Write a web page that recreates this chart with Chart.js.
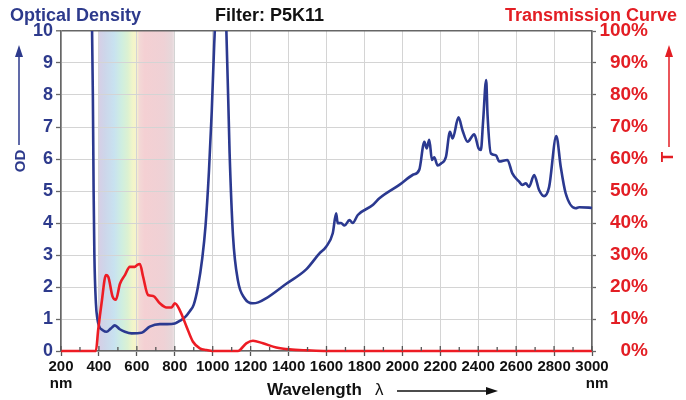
<!DOCTYPE html>
<html>
<head>
<meta charset="utf-8">
<title>Filter: P5K11</title>
<script src="https://cdn.jsdelivr.net/npm/chart.js@4.4.1/dist/chart.umd.min.js"></script>
<style>
  html, body { margin:0; padding:0; background:#fff; }
  #wrap { position:relative; width:686px; height:400px; font-family:'Liberation Sans', Arial, sans-serif; font-weight:bold; }
  #wrap canvas { position:absolute; left:0; top:0; }
  .lbl { position:absolute; white-space:nowrap; line-height:1; }
  #arrows { position:absolute; left:0; top:0; }
</style>
</head>
<body>
<div id="wrap">
  <canvas id="chart" width="686" height="400"></canvas>
  <svg id="arrows" width="686" height="400">
    <line x1="19" y1="145" x2="19" y2="54" stroke="#2d3a8c" stroke-width="1.5"/>
    <polygon points="19,45 15,57 23,57" fill="#2d3a8c"/>
    <line x1="669" y1="147" x2="669" y2="54" stroke="#e31e24" stroke-width="1.5"/>
    <polygon points="669,45 665,57 673,57" fill="#e31e24"/>
    <line x1="397" y1="391" x2="488" y2="391" stroke="#111" stroke-width="1.3"/>
    <polygon points="498,391 486,387 486,395" fill="#111"/>
  </svg>
  <div class="lbl" style="left:10px;top:6px;font-size:18px;color:#2d3a8c">Optical Density</div>
  <div class="lbl" style="left:215px;top:6px;font-size:18px;color:#111">Filter: P5K11</div>
  <div class="lbl" style="right:9px;top:6px;font-size:18px;color:#e31e24">Transmission Curve</div>
  <div class="lbl" style="left:19px;top:161px;font-size:15px;color:#2d3a8c;transform:translate(-50%,-50%) rotate(-90deg)">OD</div>
  <div class="lbl" style="left:667px;top:157px;font-size:17px;color:#e31e24;transform:translate(-50%,-50%) rotate(-90deg)">T</div>
  <div class="lbl" style="left:61px;top:375px;font-size:15px;color:#111;transform:translateX(-50%)">nm</div>
  <div class="lbl" style="left:597px;top:375px;font-size:15px;color:#111;transform:translateX(-50%)">nm</div>
  <div class="lbl" style="left:267px;top:381px;font-size:17px;color:#111">Wavelength</div>
  <div class="lbl" style="left:375px;top:381px;font-size:17px;font-weight:normal;color:#111">λ</div>
</div>
<script>
// optical density (blue)
const odNm  = [362, 368, 372, 376, 384, 392, 402, 420, 440, 462, 484, 510, 537, 572, 625, 668, 721, 760, 800, 826, 853, 880, 900, 922, 945, 962, 980, 995, 1008, 1020, 1050, 1072, 1089, 1107, 1133, 1168, 1212, 1240, 1283, 1388, 1493, 1563, 1598, 1633, 1651, 1659, 1677, 1695, 1721, 1738, 1765, 1844, 1879, 1984, 2054, 2089, 2116, 2128, 2142, 2156, 2168, 2186, 2204, 2230, 2251, 2265, 2296, 2317, 2344, 2379, 2402, 2414, 2426, 2442, 2449, 2467, 2493, 2511, 2554, 2580, 2616, 2633, 2651, 2668, 2695, 2721, 2747, 2774, 2812, 2835, 2861, 2914, 2932, 2984, 3000];
const odVal = [10.8, 8, 5, 3.0, 1.5, 1.0, 0.76, 0.65, 0.6, 0.7, 0.8, 0.68, 0.6, 0.55, 0.57, 0.76, 0.84, 0.84, 0.86, 0.94, 1.05, 1.25, 1.45, 2.0, 2.9, 3.9, 5.6, 7.5, 9.6, 11, 11.5, 10, 6.2, 3.6, 2.2, 1.65, 1.49, 1.52, 1.65, 2.1, 2.55, 3.05, 3.26, 3.68, 4.3, 3.99, 4.0, 3.92, 4.09, 4.0, 4.25, 4.56, 4.77, 5.19, 5.5, 5.66, 6.54, 6.33, 6.6, 5.97, 6.05, 5.8, 5.86, 6.07, 6.85, 6.64, 7.3, 6.9, 6.54, 6.77, 6.33, 6.28, 7.2, 8.47, 7.4, 6.17, 6.12, 5.92, 5.97, 5.55, 5.29, 5.19, 5.24, 5.13, 5.5, 5.03, 4.84, 5.13, 6.72, 5.76, 4.93, 4.46, 4.49, 4.48, 4.47];

// transmission in % (red)
const tNm  = [200, 384, 396, 414, 437, 449, 472, 489, 511, 537, 563, 589, 602, 616, 633, 659, 686, 721, 756, 783, 800, 826, 862, 896, 932, 967, 1000, 1133, 1177, 1212, 1265, 1335, 1405, 1500, 1600, 3000];
const tVal = [0, 0, 6.6, 15, 23.7, 23.2, 17, 16, 21, 23.7, 26.3, 26.3, 26.9, 27.2, 23.2, 17.5, 17.2, 14.9, 13.6, 13.6, 14.9, 12.8, 7.6, 2.9, 0.8, 0.3, 0, 0, 2.4, 3.2, 2.4, 1.1, 0.5, 0.2, 0, 0];

// visible band
const bandNm = [400, 800];
const bandStops = [
  [0, '#d6cfe6'], [0.08, '#cdd6ea'], [0.2, '#c8e2f0'], [0.3, '#cfeee0'], [0.38, '#dcf1d2'],
  [0.45, '#f3f5c9'], [0.5, '#f7f3cc'], [0.53, '#f3d9d6'], [0.6, '#f4d0d3'], [0.85, '#efd1d5'],
  [0.96, '#e6d7da'], [1, '#eee4e6']
];

const BLUE = '#2b3990', RED = '#ed1c24', TXTBLUE = '#2d3a8c', TXTRED = '#e31e24';
const GRID = '#d4d4d4', AXIS = '#666';

const bandPlugin = {
  id: 'band',
  beforeDraw(chart){
    const {ctx, chartArea:a, scales:{x}} = chart;
    const x0 = x.getPixelForValue(bandNm[0]), x1 = x.getPixelForValue(bandNm[1]);
    const g = ctx.createLinearGradient(x0, 0, x1, 0);
    bandStops.forEach(s => g.addColorStop(s[0], s[1]));
    ctx.save();
    ctx.fillStyle = g;
    ctx.fillRect(x0, a.top, x1 - x0, a.bottom - a.top);
    ctx.restore();
  }
};

// small ticks pointing into the plot on the wavelength axis
const innerTicks = {
  id: 'innerTicks',
  afterDraw(chart){
    const {ctx, chartArea:a, scales:{x}} = chart;
    ctx.save();
    ctx.strokeStyle = '#555';
    ctx.lineWidth = 1.3;
    x.ticks.forEach(t => {
      const px = x.getPixelForValue(t.value);
      const len = t.value % 200 === 0 ? 5 : 4;
      ctx.beginPath(); ctx.moveTo(px, a.bottom); ctx.lineTo(px, a.bottom - len); ctx.stroke();
    });
    ctx.restore();
  }
};

const toPts = (xs, ys) => xs.map((v, i) => ({x: v, y: ys[i]}));

new Chart(document.getElementById('chart'), {
  type: 'line',
  data: {
    datasets: [
      { label: 'Transmission', data: toPts(tNm, tVal), yAxisID: 'y1', borderColor: RED, borderWidth: 2.6,
        pointRadius: 0, cubicInterpolationMode: 'monotone', clip: 4 },
      { label: 'OD', data: toPts(odNm, odVal), yAxisID: 'y', borderColor: BLUE, borderWidth: 2.6,
        pointRadius: 0, cubicInterpolationMode: 'monotone', clip: {left: 2, right: 2, top: 0, bottom: 2} }
    ]
  },
  options: {
    responsive: false,
    animation: false,
    layout: { padding: { top: 31, left: 0, right: 38, bottom: 0 } },
    plugins: { legend: { display: false }, tooltip: { enabled: false } },
    scales: {
      x: {
        type: 'linear', min: 200, max: 3000,
        afterFit(s){ s.height = 49; },
        ticks: {
          stepSize: 100, autoSkip: false, maxRotation: 0, padding: 2,
          color: '#111', font: { family: "'Liberation Sans', Arial, sans-serif", size: 15, weight: 'bold' },
          callback: v => v % 200 === 0 ? String(v) : ''
        },
        grid: {
          color: c => c.tick && c.tick.value % 200 === 0 ? GRID : 'rgba(0,0,0,0)',
          tickColor: c => c.tick && c.tick.value % 200 === 0 ? '#555' : 'rgba(0,0,0,0)',
          tickLength: 5, tickWidth: 1.3
        },
        border: { color: AXIS, width: 1.6 }
      },
      y: {
        position: 'left', min: 0, max: 10,
        afterFit(s){ s.width = 61; },
        ticks: { stepSize: 1, padding: 3, color: TXTBLUE,
          font: { family: "'Liberation Sans', Arial, sans-serif", size: 18, weight: 'bold' } },
        grid: {
          color: c => c.tick && c.tick.value === 10 ? AXIS : GRID,
          lineWidth: c => c.tick && c.tick.value === 10 ? 1.6 : 1,
          tickColor: AXIS, tickLength: 5, tickWidth: 1.3
        },
        border: { color: AXIS, width: 1.6 }
      },
      y1: {
        position: 'right', min: 0, max: 100,
        afterFit(s){ s.width = 56; },
        ticks: { stepSize: 10, padding: 3, crossAlign: 'far', color: TXTRED,
          font: { family: "'Liberation Sans', Arial, sans-serif", size: 19, weight: 'bold' },
          callback: v => v + '%' },
        grid: { drawOnChartArea: false, tickColor: AXIS, tickLength: 4, tickWidth: 1.3 },
        border: { color: AXIS, width: 1.6 }
      }
    }
  },
  plugins: [bandPlugin, innerTicks]
});
</script>
</body>
</html>
